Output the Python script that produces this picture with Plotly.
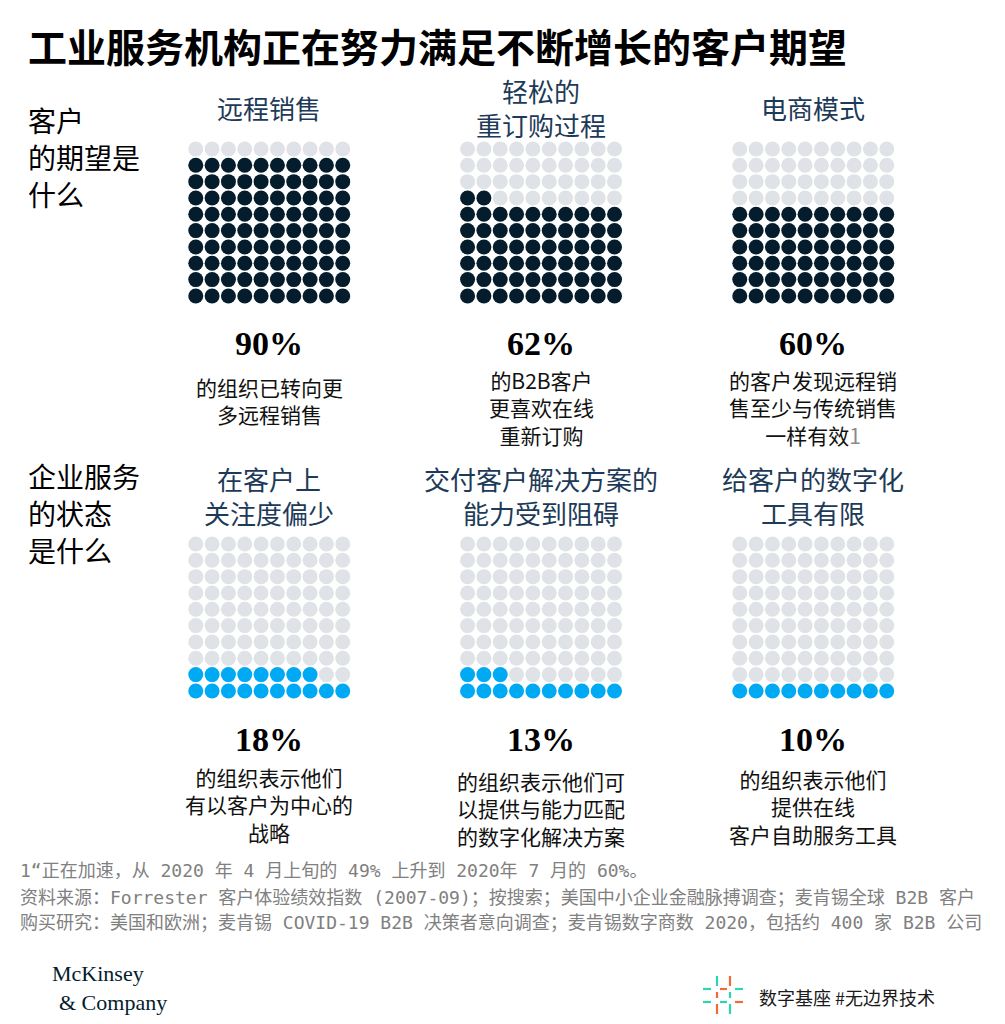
import plotly.graph_objects as go

# ---------------- data ----------------
top_titles = ["远程销售", "轻松的<br>重订购过程", "电商模式"]
top_values = [90, 62, 60]
top_descs = ["的组织已转向更<br>多远程销售",
             "的B2B客户<br>更喜欢在线<br>重新订购",
             "的客户发现远程销<br>售至少与传统销售<br>一样有效<span style='color:#8a8a8a'>1</span>"]

bottom_titles = ["在客户上<br>关注度偏少", "交付客户解决方案的<br>能力受到阻碍", "给客户的数字化<br>工具有限"]
bottom_values = [18, 13, 10]
bottom_descs = ["的组织表示他们<br>有以客户为中心的<br>战略",
                "的组织表示他们可<br>以提供与能力匹配<br>的数字化解决方案",
                "的组织表示他们<br>提供在线<br>客户自助服务工具"]

row_labels = [["客户", "的期望是", "什么"], ["企业服务", "的状态", "是什么"]]
title_text = "工业服务机构正在努力满足不断增长的客户期望"
footnotes = ["1“正在加速，从 2020 年 4 月上旬的 49% 上升到 2020年 7 月的 60%。",
             "资料来源：Forrester 客户体验绩效指数 (2007-09)；按搜索；美国中小企业金融脉搏调查；麦肯锡全球 B2B 客户",
             "购买研究：美国和欧洲；麦肯锡 COVID-19 B2B 决策者意向调查；麦肯锡数字商数 2020，包括约 400 家 B2B 公司"]

# ---------------- layout constants ----------------
W, H = 1005, 1024
CJK = "Noto Sans CJK SC"
MONO = "DejaVu Sans Mono, Noto Sans CJK SC"
SERIF = "Liberation Serif"
NAVY = "#051C2C"
BLUE = "#00A9F4"
GREY = "#DFE2E6"
HEAD = "#1D3A58"

def px(x):
    return x / W

def py(y):
    return 1 - y / H

grid_left = [187.6, 459.4, 731.6]
grid_size = 163.3
grid_top = [140.8, 535.8]
centers_x = [g + grid_size / 2 for g in grid_left]

fig = go.Figure()
layout_axes = {}
annotations = []

rows = [(top_values, NAVY), (bottom_values, BLUE)]
ax = 0
for r, (vals, col) in enumerate(rows):
    for c, v in enumerate(vals):
        ax += 1
        xs_f, ys_f, xs_e, ys_e = [], [], [], []
        for i in range(100):
            rr, cc = divmod(i, 10)
            if i < v:
                xs_f.append(cc); ys_f.append(rr)
            else:
                xs_e.append(cc); ys_e.append(rr)
        xa = "x" if ax == 1 else f"x{ax}"
        ya = "y" if ax == 1 else f"y{ax}"
        fig.add_trace(go.Scatter(x=xs_e, y=ys_e, mode="markers", xaxis=xa, yaxis=ya,
                                 marker=dict(size=15, color=GREY), hoverinfo="skip", showlegend=False))
        fig.add_trace(go.Scatter(x=xs_f, y=ys_f, mode="markers", xaxis=xa, yaxis=ya,
                                 marker=dict(size=15, color=col), hoverinfo="skip", showlegend=False))
        kx = "xaxis" if ax == 1 else f"xaxis{ax}"
        ky = "yaxis" if ax == 1 else f"yaxis{ax}"
        x0 = grid_left[c]
        y0 = grid_top[r]
        layout_axes[kx] = dict(domain=[px(x0), px(x0 + grid_size)], range=[-0.5, 9.5],
                               visible=False, fixedrange=True, anchor=ya)
        layout_axes[ky] = dict(domain=[py(y0 + grid_size), py(y0)], range=[-0.5, 9.5],
                               visible=False, fixedrange=True, anchor=xa)

def ann(text, x, y, size, color="#111", family=CJK, xanchor="center", yanchor="middle", align="center"):
    annotations.append(dict(text=text, x=px(x), y=py(y), xref="paper", yref="paper",
                            showarrow=False, xanchor=xanchor, yanchor=yanchor, align=align,
                            font=dict(size=size, color=color, family=family)))

# title
ann("<b>" + title_text + "</b>", 26, 45, 39, color="#000", xanchor="left")
# row labels (one annotation per line)
for lines, ys in zip(row_labels, [[120, 157, 194], [476, 513, 550]]):
    for t, yy in zip(lines, ys):
        ann(t, 26, yy, 28, color="#000", xanchor="left", align="left")

# grid headers
for c in range(3):
    ann(top_titles[c], centers_x[c], 107, 26, color=HEAD)
    ann(bottom_titles[c], centers_x[c], 495, 26, color=HEAD)

# percentages and descriptions
top_desc_y = [400, 407, 407]
bot_desc_y = [804, 808, 806]
for c in range(3):
    ann(f"<b>{top_values[c]}%</b>", centers_x[c], 343, 34, color="#000", family=SERIF)
    ann(top_descs[c], centers_x[c], top_desc_y[c], 21, color="#111")
    ann(f"<b>{bottom_values[c]}%</b>", centers_x[c], 739, 34, color="#000", family=SERIF)
    ann(bottom_descs[c], centers_x[c], bot_desc_y[c], 21, color="#111")

# footnotes
for t, yy in zip(footnotes, [870, 897, 922]):
    ann(t, 18, yy, 18, color="#808080", family=MONO, xanchor="left", align="left")

# logos
ann("McKinsey", 50, 973, 22, color=NAVY, family=SERIF, xanchor="left", align="left")
ann("&amp; Company", 57, 1002, 22, color=NAVY, family=SERIF, xanchor="left", align="left")
ann("数字基座 #无边界技术", 757, 997, 18, color="#1a1a1a", xanchor="left", align="left")

TEAL = "#2DD4B4"
ORNG = "#F26A3B"
shapes = []
def seg(x0, y0, x1, y1, color):
    shapes.append(dict(type="line", xref="paper", yref="paper", x0=px(x0), y0=py(y0),
                       x1=px(x1), y1=py(y1), line=dict(color=color, width=2.2)))
# verticals
seg(717, 976, 717, 986, TEAL); seg(717, 992, 717, 998, ORNG); seg(717, 1004, 717, 1014, ORNG)
seg(730, 976, 730, 986, ORNG); seg(730, 992, 730, 998, TEAL); seg(730, 1004, 730, 1014, TEAL)
# horizontals
seg(703, 989, 711, 989, TEAL); seg(720, 989, 727, 989, ORNG); seg(735, 989, 743, 989, TEAL)
seg(703, 1002, 711, 1002, TEAL); seg(720, 1002, 727, 1002, TEAL); seg(735, 1002, 743, 1002, ORNG)

fig.update_layout(width=W, height=H, margin=dict(l=0, r=0, t=0, b=0),
                  paper_bgcolor="white", plot_bgcolor="white",
                  annotations=annotations, shapes=shapes, showlegend=False, **layout_axes)

fig.write_html("out.html", config={"displayModeBar": False})
